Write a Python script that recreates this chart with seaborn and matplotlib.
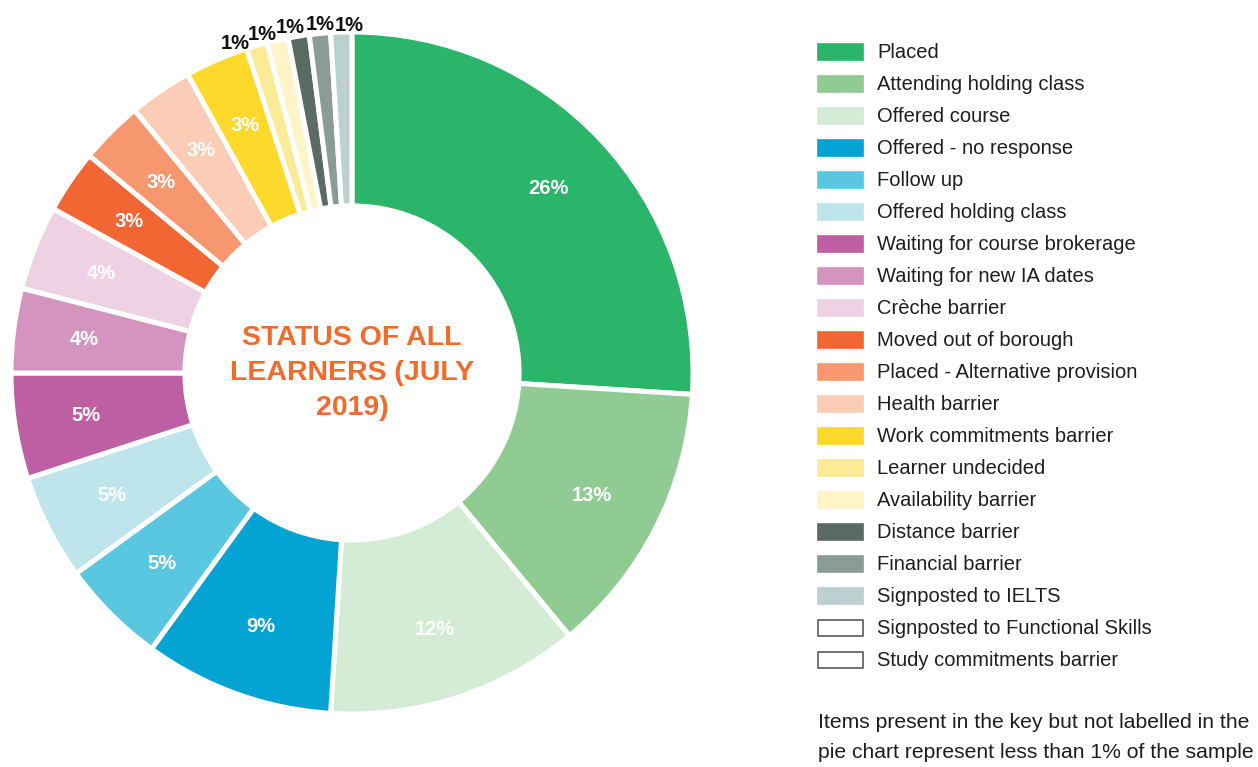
import numpy as np
import matplotlib
matplotlib.use("Agg")
import matplotlib.pyplot as plt
from matplotlib.patches import Rectangle
import seaborn as sns

# Learner status categories, in ring order (clockwise from 12 o'clock)
categories = [
    "Placed",
    "Attending holding class",
    "Offered course",
    "Offered - no response",
    "Follow up",
    "Offered holding class",
    "Waiting for course brokerage",
    "Waiting for new IA dates",
    "Crèche barrier",
    "Moved out of borough",
    "Placed - Alternative provision",
    "Health barrier",
    "Work commitments barrier",
    "Learner undecided",
    "Availability barrier",
    "Distance barrier",
    "Financial barrier",
    "Signposted to IELTS",
    "Signposted to Functional Skills",
    "Study commitments barrier",
]

# Share of all learners (%)
shares = [26, 13, 12, 9, 5, 5, 5, 4, 4, 3, 3, 3, 3, 1, 1, 1, 1, 1, 0, 0]

colors = [
    "#2BB56A", "#8FCB93", "#D4EBD6", "#03A4D3", "#5AC7E0", "#BEE5EC",
    "#BE5FA4", "#D594C0", "#EED2E4", "#F26633", "#F7976F", "#FCCDB6",
    "#FDD92B", "#FBEA96", "#FEF4C8", "#5A6B64", "#8A9C95", "#BBD0CF",
    "#FFFFFF", "#FFFFFF",
]

title_text = "STATUS OF ALL\nLEARNERS (JULY\n2019)"
footnote_lines = [
    "Items present in the key but not labelled in the",
    "pie chart represent less than 1% of the sample",
]

sns.set_theme(style="white")
plt.rcParams["font.family"] = ["Liberation Sans", "DejaVu Sans"]

W, H = 1258, 767
fig = plt.figure(figsize=(W / 100, H / 100), dpi=100)
fig.patch.set_facecolor("white")

# Donut axes: centre and radius in pixels
cx, cy, R = 352, 373, 341
ax = fig.add_axes([(cx - R) / W, (H - cy - R) / H, 2 * R / W, 2 * R / H])

drawn = [i for i, v in enumerate(shares) if v > 0]
wedges, _ = ax.pie(
    [shares[i] for i in drawn],
    colors=[colors[i] for i in drawn],
    startangle=90,
    counterclock=False,
    radius=1.0,
    wedgeprops=dict(width=0.51, edgecolor="white", linewidth=3.6),
)
ax.set_xlim(-1, 1)
ax.set_ylim(-1, 1)
ax.set_aspect("equal")
ax.axis("off")

# Offsets (pixels) for the labels of the thin slices, fanned out above the ring
small_offsets = {13: (-22, 2), 14: (-15, 6), 15: (-8, 9), 16: (0, 9), 17: (8, 7)}

for w, i in zip(wedges, drawn):
    mid = np.deg2rad((w.theta1 + w.theta2) / 2)
    label = f"{shares[i]}%"
    if shares[i] >= 3:
        ax.text(0.79 * np.cos(mid), 0.79 * np.sin(mid), label,
                ha="center", va="center", color="white",
                fontsize=14.5, fontweight="bold")
    else:
        ax.annotate(label, xy=(np.cos(mid), np.sin(mid)),
                    xytext=small_offsets.get(i, (0, 8)),
                    textcoords="offset pixels",
                    ha="center", va="center", color="#111111",
                    fontsize=14.5, fontweight="bold",
                    annotation_clip=False)

ax.text(0, 0, title_text, ha="center", va="center", multialignment="center",
        color="#F26B2A", fontsize=20.5, fontweight="bold", linespacing=1.47)

# Key and note, laid out in pixel coordinates
ov = fig.add_axes([0, 0, 1, 1])
ov.set_xlim(0, W)
ov.set_ylim(H, 0)
ov.axis("off")

for k, (name, col) in enumerate(zip(categories, colors)):
    yc = 52 + 32 * k
    edge = "#5A5A5A" if shares[k] == 0 else col
    ov.add_patch(Rectangle((818, yc - 8), 45, 16, facecolor=col,
                           edgecolor=edge, linewidth=1.2))
    ov.text(877, yc, name, ha="left", va="center", fontsize=14.5,
            color="#1E1E1E")

for j, line in enumerate(footnote_lines):
    ov.text(818, 722 + 30 * j, line, ha="left", va="center", fontsize=15.2,
            color="#1E1E1E")

fig.savefig("out.png", dpi=100, facecolor="white")
